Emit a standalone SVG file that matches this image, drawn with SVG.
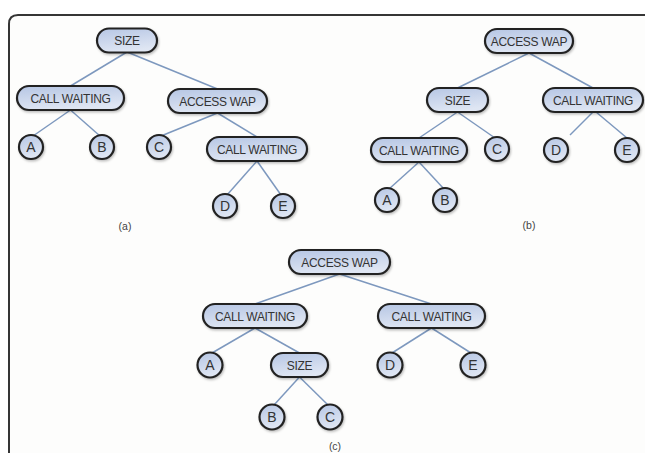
<svg xmlns="http://www.w3.org/2000/svg" width="645" height="453" viewBox="0 0 645 453">
  <defs>
    <linearGradient id="pillFill" x1="0" y1="0" x2="0.3" y2="1">
      <stop offset="0" stop-color="#b6c6e4"/>
      <stop offset="1" stop-color="#dfe6f3"/>
    </linearGradient>
    <filter id="shadow" x="-20%" y="-40%" width="140%" height="180%">
      <feDropShadow dx="1" dy="1.5" stdDeviation="1" flood-color="#000" flood-opacity="0.25"/>
    </filter>
  </defs>
  <style>
    .frame { fill: #fdfdfc; stroke: #353535; stroke-width: 2; }
    .edge { stroke: #7d98be; stroke-width: 1.5; fill: none; }
    .pill, .leaf { fill: url(#pillFill); stroke: #222; stroke-width: 2.2; filter: url(#shadow); }
    .lbl { font-family: "Liberation Sans", Arial, sans-serif; font-size: 12px; fill: #333; text-anchor: middle; letter-spacing: -0.3px; }
    .leaf-lbl { font-family: "Liberation Sans", Arial, sans-serif; font-size: 14px; fill: #333; text-anchor: middle; }
    .cap { font-family: "Liberation Sans", Arial, sans-serif; font-size: 10.5px; fill: #444; text-anchor: middle; }
  </style>

  <rect width="645" height="453" fill="#ffffff"/>
  <path class="frame" d="M9,460 V24 Q9,15 18,15 H650 V460 Z"/>

  <!-- connectors -->
  <g id="connectors">
    <!-- tree (a) -->
    <line class="edge" x1="127" y1="52" x2="70.5" y2="86"/>
    <line class="edge" x1="127" y1="52" x2="217.5" y2="89"/>
    <line class="edge" x1="70.5" y1="110" x2="33" y2="136"/>
    <line class="edge" x1="70.5" y1="110" x2="100" y2="136"/>
    <line class="edge" x1="217.5" y1="113" x2="161" y2="136"/>
    <line class="edge" x1="217.5" y1="113" x2="257" y2="137"/>
    <line class="edge" x1="257" y1="161" x2="227" y2="195"/>
    <line class="edge" x1="257" y1="161" x2="281" y2="195"/>
    <!-- tree (b) -->
    <line class="edge" x1="529" y1="53" x2="457.5" y2="88"/>
    <line class="edge" x1="529" y1="53" x2="593" y2="88"/>
    <line class="edge" x1="457.5" y1="112" x2="419" y2="138"/>
    <line class="edge" x1="457.5" y1="112" x2="495" y2="138"/>
    <line class="edge" x1="593" y1="112" x2="570" y2="135"/>
    <line class="edge" x1="596" y1="112" x2="627" y2="138"/>
    <line class="edge" x1="419" y1="162" x2="389" y2="189"/>
    <line class="edge" x1="419" y1="162" x2="444" y2="189"/>
    <!-- tree (c) -->
    <line class="edge" x1="339.5" y1="274" x2="255" y2="304"/>
    <line class="edge" x1="339.5" y1="274" x2="431.5" y2="304"/>
    <line class="edge" x1="255" y1="328" x2="212" y2="353"/>
    <line class="edge" x1="255" y1="328" x2="299.5" y2="353"/>
    <line class="edge" x1="431.5" y1="328" x2="392" y2="353"/>
    <line class="edge" x1="431.5" y1="328" x2="471" y2="353"/>
    <line class="edge" x1="299.5" y1="377" x2="274" y2="405"/>
    <line class="edge" x1="299.5" y1="377" x2="328" y2="405"/>
  </g>

  <!-- tree (a) -->
  <g id="a-size"><rect class="pill" x="97" y="28.5" width="60" height="24" rx="12"/><text class="lbl" x="127" y="45">SIZE</text></g>
  <g id="a-call-waiting-1"><rect class="pill" x="17" y="86" width="107" height="24" rx="12"/><text class="lbl" x="70.5" y="102.5">CALL WAITING</text></g>
  <g id="a-access-wap"><rect class="pill" x="168" y="89" width="99" height="24" rx="12"/><text class="lbl" x="217.5" y="105.5">ACCESS WAP</text></g>
  <g id="a-A"><circle class="leaf" cx="31" cy="147" r="12"/><text class="leaf-lbl" x="31" y="152">A</text></g>
  <g id="a-B"><circle class="leaf" cx="102" cy="147" r="12"/><text class="leaf-lbl" x="102" y="152">B</text></g>
  <g id="a-C"><circle class="leaf" cx="159" cy="147" r="12"/><text class="leaf-lbl" x="159" y="152">C</text></g>
  <g id="a-call-waiting-2"><rect class="pill" x="207" y="137" width="100" height="24" rx="12"/><text class="lbl" x="257" y="153.5">CALL WAITING</text></g>
  <g id="a-D"><circle class="leaf" cx="225" cy="206" r="12"/><text class="leaf-lbl" x="225" y="211">D</text></g>
  <g id="a-E"><circle class="leaf" cx="283" cy="206" r="12"/><text class="leaf-lbl" x="283" y="211">E</text></g>
  <text class="cap" x="125" y="230">(a)</text>

  <!-- tree (b) -->
  <g id="b-access-wap"><rect class="pill" x="485" y="29" width="88" height="24" rx="12"/><text class="lbl" x="529" y="45.5">ACCESS WAP</text></g>
  <g id="b-size"><rect class="pill" x="427" y="88" width="61" height="24" rx="12"/><text class="lbl" x="457.5" y="104.5">SIZE</text></g>
  <g id="b-call-waiting-2"><rect class="pill" x="543" y="88" width="100" height="24" rx="12"/><text class="lbl" x="593" y="104.5">CALL WAITING</text></g>
  <g id="b-call-waiting-1"><rect class="pill" x="371" y="138" width="96" height="24" rx="12"/><text class="lbl" x="419" y="154.5">CALL WAITING</text></g>
  <g id="b-C"><circle class="leaf" cx="497" cy="149" r="12"/><text class="leaf-lbl" x="497" y="154">C</text></g>
  <g id="b-D"><circle class="leaf" cx="556" cy="150" r="12"/><text class="leaf-lbl" x="556" y="155">D</text></g>
  <g id="b-E"><circle class="leaf" cx="627" cy="150" r="12"/><text class="leaf-lbl" x="627" y="155">E</text></g>
  <g id="b-A"><circle class="leaf" cx="387" cy="200" r="12"/><text class="leaf-lbl" x="387" y="205">A</text></g>
  <g id="b-B"><circle class="leaf" cx="445" cy="200" r="12"/><text class="leaf-lbl" x="445" y="205">B</text></g>
  <text class="cap" x="529" y="229">(b)</text>

  <!-- tree (c) -->
  <g id="c-access-wap"><rect class="pill" x="289" y="250" width="101" height="24" rx="12"/><text class="lbl" x="339.5" y="266.5">ACCESS WAP</text></g>
  <g id="c-call-waiting-1"><rect class="pill" x="203" y="304" width="104" height="24" rx="12"/><text class="lbl" x="255" y="320.5">CALL WAITING</text></g>
  <g id="c-call-waiting-2"><rect class="pill" x="378" y="304" width="107" height="24" rx="12"/><text class="lbl" x="431.5" y="320.5">CALL WAITING</text></g>
  <g id="c-A"><circle class="leaf" cx="210" cy="365" r="12.5"/><text class="leaf-lbl" x="210" y="370">A</text></g>
  <g id="c-size"><rect class="pill" x="271" y="353" width="57" height="24" rx="12"/><text class="lbl" x="299.5" y="369.5">SIZE</text></g>
  <g id="c-D"><circle class="leaf" cx="390" cy="365" r="12.5"/><text class="leaf-lbl" x="390" y="370">D</text></g>
  <g id="c-E"><circle class="leaf" cx="473" cy="365" r="12.5"/><text class="leaf-lbl" x="473" y="370">E</text></g>
  <g id="c-B"><circle class="leaf" cx="272" cy="417" r="12.5"/><text class="leaf-lbl" x="272" y="422">B</text></g>
  <g id="c-C"><circle class="leaf" cx="330" cy="417" r="12.5"/><text class="leaf-lbl" x="330" y="422">C</text></g>
  <text class="cap" x="335" y="450">(c)</text>
</svg>
